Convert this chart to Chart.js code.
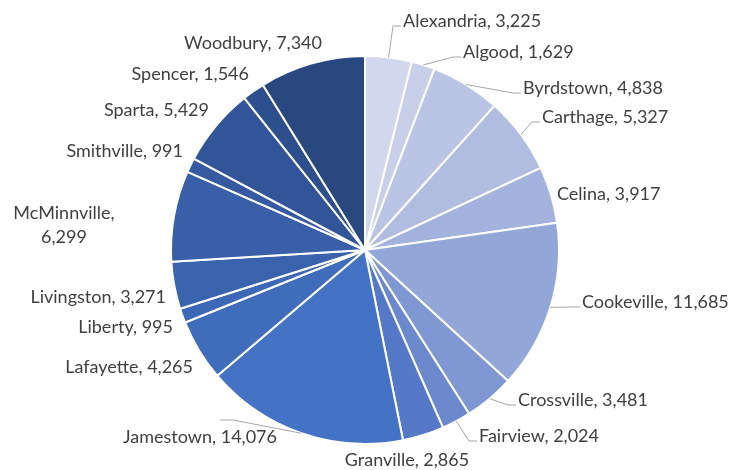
<!DOCTYPE html>
<html>
<head>
<meta charset="utf-8">
<script src="https://cdn.jsdelivr.net/npm/chart.js@4.4.1/dist/chart.umd.min.js"></script>
<style>
  html, body { margin: 0; padding: 0; background: #fff; }
  #wrap { width: 746px; height: 470px; position: relative; }
</style>
</head>
<body>
<div id="wrap"><canvas id="pie"></canvas></div>
<script>
// towns and their counts, clockwise from 12 o'clock
const towns = ['Alexandria', 'Algood', 'Byrdstown', 'Carthage', 'Celina', 'Cookeville',
  'Crossville', 'Fairview', 'Granville', 'Jamestown', 'Lafayette', 'Liberty',
  'Livingston', 'McMinnville', 'Smithville', 'Sparta', 'Spencer', 'Woodbury'];
const counts = [3225, 1629, 4838, 5327, 3917, 11685, 3481, 2024, 2865, 14076,
  4265, 995, 3271, 6299, 991, 5429, 1546, 7340];

// monochromatic blue, light to dark
const sliceColors = ['#D1D7EC', '#C8CFE8', '#BAC4E4', '#B0BDE1', '#A3B3DD', '#92A6D8',
  '#7F97D2', '#6D89CD', '#5679C7', '#4472C4', '#3F6CBB', '#3D68B5',
  '#3A63AE', '#385FA8', '#355AA1', '#32559A', '#2E4F8D', '#294880'];

// where each label sits (text anchor) and whether a leader line is drawn
const labelSpots = [
  { x: 403, y: 21, align: 'left', lead: true },
  { x: 463, y: 52, align: 'left', lead: true },
  { x: 523, y: 88, align: 'left', lead: true },
  { x: 542, y: 117, align: 'left', lead: true },
  { x: 557, y: 194, align: 'left' },
  { x: 582, y: 302, align: 'left', lead: true },
  { x: 518, y: 400, align: 'left', lead: true },
  { x: 479, y: 436, align: 'left', lead: true },
  { x: 407, y: 460, align: 'center' },
  { x: 277, y: 437, align: 'right', leadEnd: [220, 420], elbowDx: 13 },
  { x: 193, y: 367, align: 'right' },
  { x: 173, y: 327, align: 'right' },
  { x: 166, y: 297, align: 'right' },
  { x: 64, y: 213, align: 'center', wrap: true },
  { x: 183, y: 151, align: 'right' },
  { x: 209, y: 110, align: 'right' },
  { x: 249, y: 74, align: 'right' },
  { x: 322, y: 43, align: 'right' }
];

const labelFont = '18px Lato, "Open Sans", sans-serif';

const outsideLabels = {
  id: 'outsideLabels',
  afterDatasetsDraw(chart) {
    const ctx = chart.ctx;
    const arcs = chart.getDatasetMeta(0).data;
    ctx.save();
    ctx.font = labelFont;
    ctx.textBaseline = 'middle';
    arcs.forEach((arc, i) => {
      const spot = labelSpots[i];
      const p = arc.getProps(['x', 'y', 'startAngle', 'endAngle', 'outerRadius'], true);
      const mid = (p.startAngle + p.endAngle) / 2;
      const ax = p.x + Math.cos(mid) * p.outerRadius;
      const ay = p.y + Math.sin(mid) * p.outerRadius;

      // leader line
      if (spot.lead || spot.leadEnd) {
        let ex, ey, bx;
        if (spot.leadEnd) {
          ex = spot.leadEnd[0]; ey = spot.leadEnd[1];
          bx = ex + spot.elbowDx;
        } else {
          ex = spot.x - 2; ey = spot.y + 5;
          bx = ex - 8;
        }
        ctx.strokeStyle = '#A6A6A6';
        ctx.lineWidth = 1;
        ctx.beginPath();
        ctx.moveTo(ax, ay);
        ctx.lineTo(bx, ey);
        ctx.lineTo(ex, ey);
        ctx.stroke();
      }

      const valueText = counts[i].toLocaleString('en-US');
      ctx.fillStyle = '#404040';
      ctx.textAlign = spot.align;
      if (spot.wrap) {
        ctx.fillText(towns[i] + ',', spot.x, spot.y);
        ctx.fillText(valueText, spot.x, spot.y + 24);
      } else {
        ctx.fillText(towns[i] + ', ' + valueText, spot.x, spot.y);
      }
    });
    ctx.restore();
  }
};

new Chart(document.getElementById('pie'), {
  type: 'pie',
  data: {
    labels: towns,
    datasets: [{
      data: counts,
      backgroundColor: sliceColors,
      borderColor: '#ffffff',
      borderWidth: 2
    }]
  },
  options: {
    responsive: true,
    maintainAspectRatio: false,
    animation: false,
    layout: { padding: { top: 55, bottom: 25, left: 170, right: 186 } },
    plugins: {
      legend: { display: false },
      tooltip: { enabled: false }
    }
  },
  plugins: [outsideLabels]
});
</script>
</body>
</html>
